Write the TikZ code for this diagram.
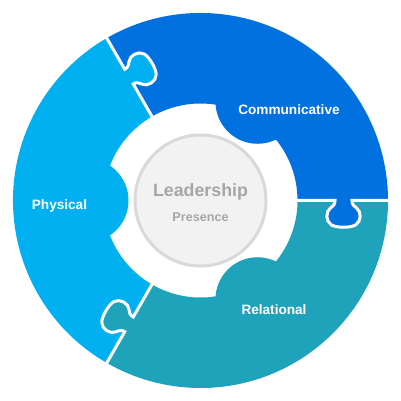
\documentclass[tikz,border=0pt]{standalone}
\usepackage{fontspec}
\setmainfont{Liberation Sans}
\usetikzlibrary{positioning}
\definecolor{CommBlue}{HTML}{0071DF}
\definecolor{PhysBlue}{HTML}{00B0F0}
\definecolor{RelTeal}{HTML}{1FA3BA}
\definecolor{CoreFill}{HTML}{F2F2F2}
\definecolor{CoreRim}{HTML}{D9D9D9}
\definecolor{CoreText}{HTML}{A6A6A6}

\begin{document}
\begin{tikzpicture}[x=1pt,y=1pt,
    knob/.style={insert path={.. controls (134.5,-4) and (133,-5) .. (130,-7.5)
      .. controls (125,-11) and (125,-21) .. (131,-24.5)
      .. controls (136,-27.5) and (150,-27.5) .. (155,-24.5)
      .. controls (161,-21) and (161,-11) .. (156,-7.5)
      .. controls (153,-5) and (151.5,-4) .. (151.5,0)}},
    gap/.style={draw=white,line width=3pt},
    piecetext/.style={text=white,font=\fontsize{13.6}{16}\selectfont\bfseries,anchor=base,inner sep=0pt},
    coretext/.style={text=CoreText,inner sep=0pt}]

  \useasboundingbox (-200.5,-200.5) rectangle (200.5,200.5);

  \foreach \a/\col in {0/CommBlue,120/PhysBlue,240/RelTeal}{
    \fill[\col] (\a:97) arc[start angle=\a,delta angle=120,radius=97]
      -- (\a+120:187.5) arc[start angle=\a+120,delta angle=-120,radius=187.5] -- cycle;
    \fill[\col] (\a+60:114) circle[radius=42];
  }
  \foreach \a/\col in {0/CommBlue,120/PhysBlue,240/RelTeal}{
    \begin{scope}[rotate=\a]
      \fill[\col] (134.5,2) -- (134.5,0) [knob] -- (151.5,2) -- cycle;
      \draw[gap] (94,0) -- (134.5,0) [knob] -- (190,0);
    \end{scope}
  }

  \node[circle,draw=CoreRim,fill=CoreFill,line width=3pt,minimum size=131pt,inner sep=0pt] (core) at (0,0) {};
  \node[coretext,anchor=base,font=\fontsize{17.8}{20}\selectfont\bfseries] (lead) at (0,3.5) {Leadership};
  \node[coretext,font=\fontsize{12.6}{15}\selectfont\bfseries] (pres) [below=11.5pt of lead] {Presence};

  \node[piecetext] (comm) at (88.5,86.2) {Communicative};
  \node[piecetext] (phys) at (-141,-8.8) {Physical};
  \node[piecetext] (rel) at (73.5,-113.8) {Relational};
\end{tikzpicture}
\end{document}
